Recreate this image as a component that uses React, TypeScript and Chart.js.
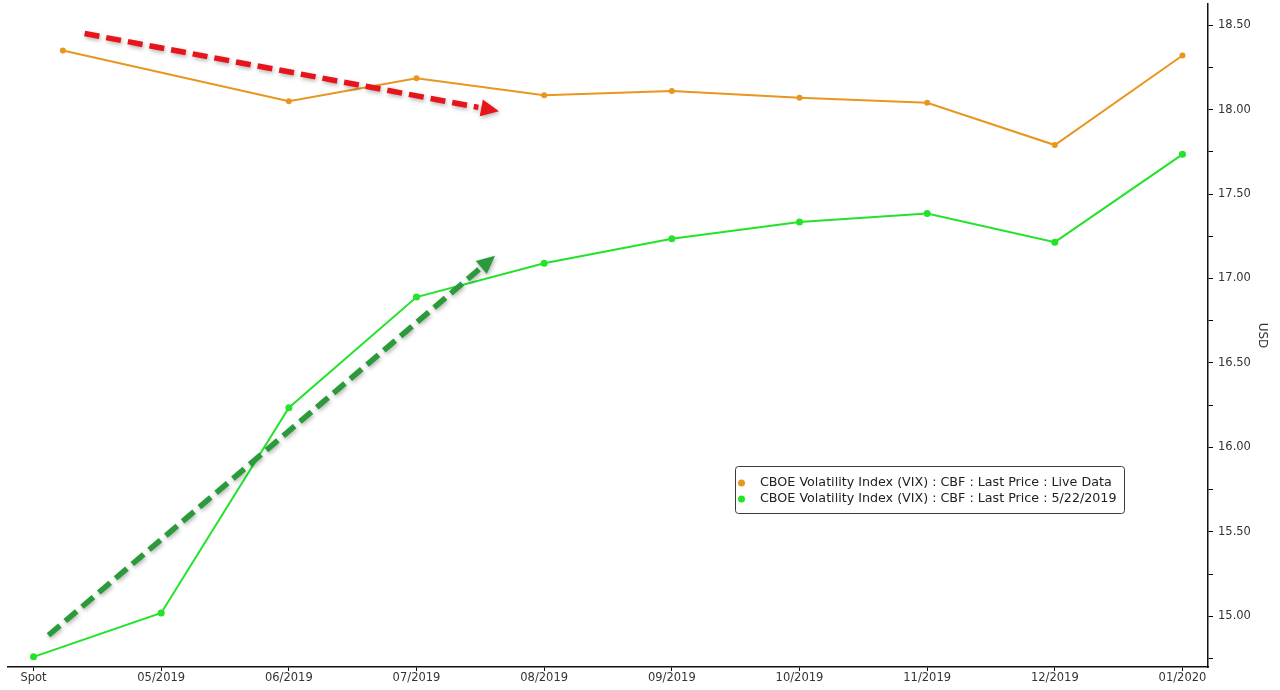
import React, { useEffect, useRef } from "react";
import { Chart, registerables } from "chart.js";

Chart.register(...registerables);

// ---- data ----
const xLabels = ["Spot", "05/2019", "06/2019", "07/2019", "08/2019", "09/2019", "10/2019", "11/2019", "12/2019", "01/2020"];
const tickPositions = [0, 1, 2, 3, 4, 5, 6, 7, 8, 9];

const liveX = [0.23, 2, 3, 4, 5, 6, 7, 8, 9];
const liveValues = [18.35, 18.05, 18.185, 18.085, 18.11, 18.07, 18.04, 17.79, 18.32];

const histX = [0, 1, 2, 3, 4, 5, 6, 7, 8, 9];
const histValues = [14.76, 15.02, 16.235, 16.89, 17.09, 17.235, 17.335, 17.385, 17.215, 17.735];

const yTickValues = [14.75, 15.0, 15.25, 15.5, 15.75, 16.0, 16.25, 16.5, 16.75, 17.0, 17.25, 17.5, 17.75, 18.0, 18.25, 18.5];

const seriesNames = [
  "CBOE Volatility Index (VIX) : CBF : Last Price : Live Data",
  "CBOE Volatility Index (VIX) : CBF : Last Price : 5/22/2019",
];
const axisTitle = "USD";

// annotation arrows (x in category index units, y in USD)
const redArrowFrom = [0.4, 18.45];
const redArrowTo = [3.646, 17.99];
const greenArrowFrom = [0.117, 14.888];
const greenArrowTo = [3.615, 17.134];

const ORANGE = "#E8961E";
const GREEN = "#22E32A";
const FONT = "'DejaVu Sans', Tahoma, sans-serif";

function drawArrow(ctx: CanvasRenderingContext2D, x1: number, y1: number, x2: number, y2: number, color: string) {
  const ang = Math.atan2(y2 - y1, x2 - x1);
  const c = Math.cos(ang);
  const s = Math.sin(ang);
  const headLen = 18;
  const headW = 8.5;
  const bx = x2 - headLen * c;
  const by = y2 - headLen * s;
  ctx.save();
  ctx.shadowColor = "rgba(0,0,0,0.3)";
  ctx.shadowBlur = 4;
  ctx.shadowOffsetX = 1;
  ctx.shadowOffsetY = 2;
  ctx.strokeStyle = color;
  ctx.lineWidth = 5.5;
  ctx.lineCap = "butt";
  ctx.setLineDash([15, 7]);
  ctx.beginPath();
  ctx.moveTo(x1, y1);
  ctx.lineTo(bx - 3 * c, by - 3 * s);
  ctx.stroke();
  ctx.setLineDash([]);
  ctx.fillStyle = color;
  ctx.beginPath();
  ctx.moveTo(x2, y2);
  ctx.lineTo(bx + headW * s, by - headW * c);
  ctx.lineTo(bx - headW * s, by + headW * c);
  ctx.closePath();
  ctx.fill();
  ctx.restore();
}

const annotationPlugin = {
  id: "annotations",
  afterDatasetsDraw(chart: any) {
    const ctx = chart.ctx as CanvasRenderingContext2D;
    const xs = chart.scales.x;
    const ys = chart.scales.y;
    drawArrow(ctx, xs.getPixelForValue(redArrowFrom[0]), ys.getPixelForValue(redArrowFrom[1]),
      xs.getPixelForValue(redArrowTo[0]), ys.getPixelForValue(redArrowTo[1]), "#E8141C");
    drawArrow(ctx, xs.getPixelForValue(greenArrowFrom[0]), ys.getPixelForValue(greenArrowFrom[1]),
      xs.getPixelForValue(greenArrowTo[0]), ys.getPixelForValue(greenArrowTo[1]), "#2A9A3A");
  },
  afterDraw(chart: any) {
    const ctx = chart.ctx as CanvasRenderingContext2D;
    const ca = chart.chartArea;
    const left = ca.left + 727;
    const top = ca.top + 462;
    const w = 389;
    const h = 47;
    ctx.save();
    ctx.fillStyle = "#ffffff";
    ctx.strokeStyle = "#3a3a3a";
    ctx.lineWidth = 1;
    ctx.beginPath();
    (ctx as any).roundRect(left + 0.5, top + 0.5, w, h, 3);
    ctx.fill();
    ctx.stroke();
    ctx.font = `12.7px ${FONT}`;
    ctx.textBaseline = "middle";
    chart.data.datasets.forEach((ds: any, i: number) => {
      const cy = top + 17 + i * 16;
      ctx.fillStyle = ds.borderColor;
      ctx.beginPath();
      ctx.arc(left + 6.5, cy, 3.5, 0, Math.PI * 2);
      ctx.fill();
      ctx.fillStyle = "#222";
      ctx.fillText(ds.label, left + 25, cy);
    });
    ctx.restore();
  },
};

export default function App() {
  const canvasRef = useRef<HTMLCanvasElement | null>(null);

  useEffect(() => {
    if (!canvasRef.current) return;
    const chart = new Chart(canvasRef.current, {
      type: "line",
      data: {
        datasets: [
          {
            label: seriesNames[0],
            data: liveX.map((x, i) => ({ x, y: liveValues[i] })),
            borderColor: ORANGE,
            backgroundColor: ORANGE,
            pointBackgroundColor: ORANGE,
            pointBorderColor: ORANGE,
            borderWidth: 2,
            pointRadius: 3,
            pointBorderWidth: 0,
            tension: 0,
          },
          {
            label: seriesNames[1],
            data: histX.map((x, i) => ({ x, y: histValues[i] })),
            borderColor: GREEN,
            backgroundColor: GREEN,
            pointBackgroundColor: GREEN,
            pointBorderColor: GREEN,
            borderWidth: 2,
            pointRadius: 3.5,
            pointBorderWidth: 0,
            tension: 0,
          },
        ],
      },
      options: {
        animation: false,
        responsive: false,
        maintainAspectRatio: false,
        layout: { padding: { left: 8, top: 0, right: 0, bottom: 0 } },
        plugins: {
          legend: { display: false },
          tooltip: { enabled: false },
          title: { display: false },
        },
        scales: {
          x: {
            type: "linear",
            min: -0.2,
            max: 9.2,
            afterBuildTicks: (s: any) => {
              s.ticks = tickPositions.map((v) => ({ value: v }));
            },
            afterFit: (s: any) => {
              s.height = 23;
              s.paddingLeft = 0;
              s.paddingRight = 0;
            },
            ticks: {
              callback: (v: any) => xLabels[Math.round(Number(v))] ?? "",
              color: "#333",
              font: { family: FONT, size: 11.5 },
              padding: 0,
              maxRotation: 0,
              autoSkip: false,
            },
            grid: {
              drawOnChartArea: false,
              drawTicks: true,
              tickLength: 4,
              color: "#000",
            },
            border: { display: true, color: "#111", width: 1.5 },
          },
          y: {
            type: "linear",
            position: "right",
            min: 14.7,
            max: 18.625,
            afterBuildTicks: (s: any) => {
              s.ticks = yTickValues.map((v) => ({ value: v }));
            },
            afterFit: (s: any) => {
              s.width = 72;
              s.paddingTop = 0;
              s.paddingBottom = 0;
            },
            ticks: {
              callback: (v: any) => {
                const n = Number(v);
                return Math.abs(n * 2 - Math.round(n * 2)) < 1e-6 ? n.toFixed(2) : "";
              },
              color: "#333",
              font: { family: FONT, size: 11.5 },
              padding: 5,
            },
            grid: {
              drawOnChartArea: false,
              drawTicks: true,
              tickLength: 5,
              color: "#000",
            },
            border: { display: true, color: "#111", width: 1.5 },
            title: {
              display: true,
              text: axisTitle,
              color: "#333",
              font: { family: FONT, size: 12 },
              padding: { top: 11, bottom: 0 },
            },
          },
        },
      },
      plugins: [annotationPlugin],
    });
    return () => chart.destroy();
  }, []);

  return (
    <div style={{ position: "fixed", left: 0, top: 0, width: 1280, height: 690, background: "#fff" }}>
      <canvas ref={canvasRef} width={1280} height={690} style={{ display: "block" }} />
    </div>
  );
}
